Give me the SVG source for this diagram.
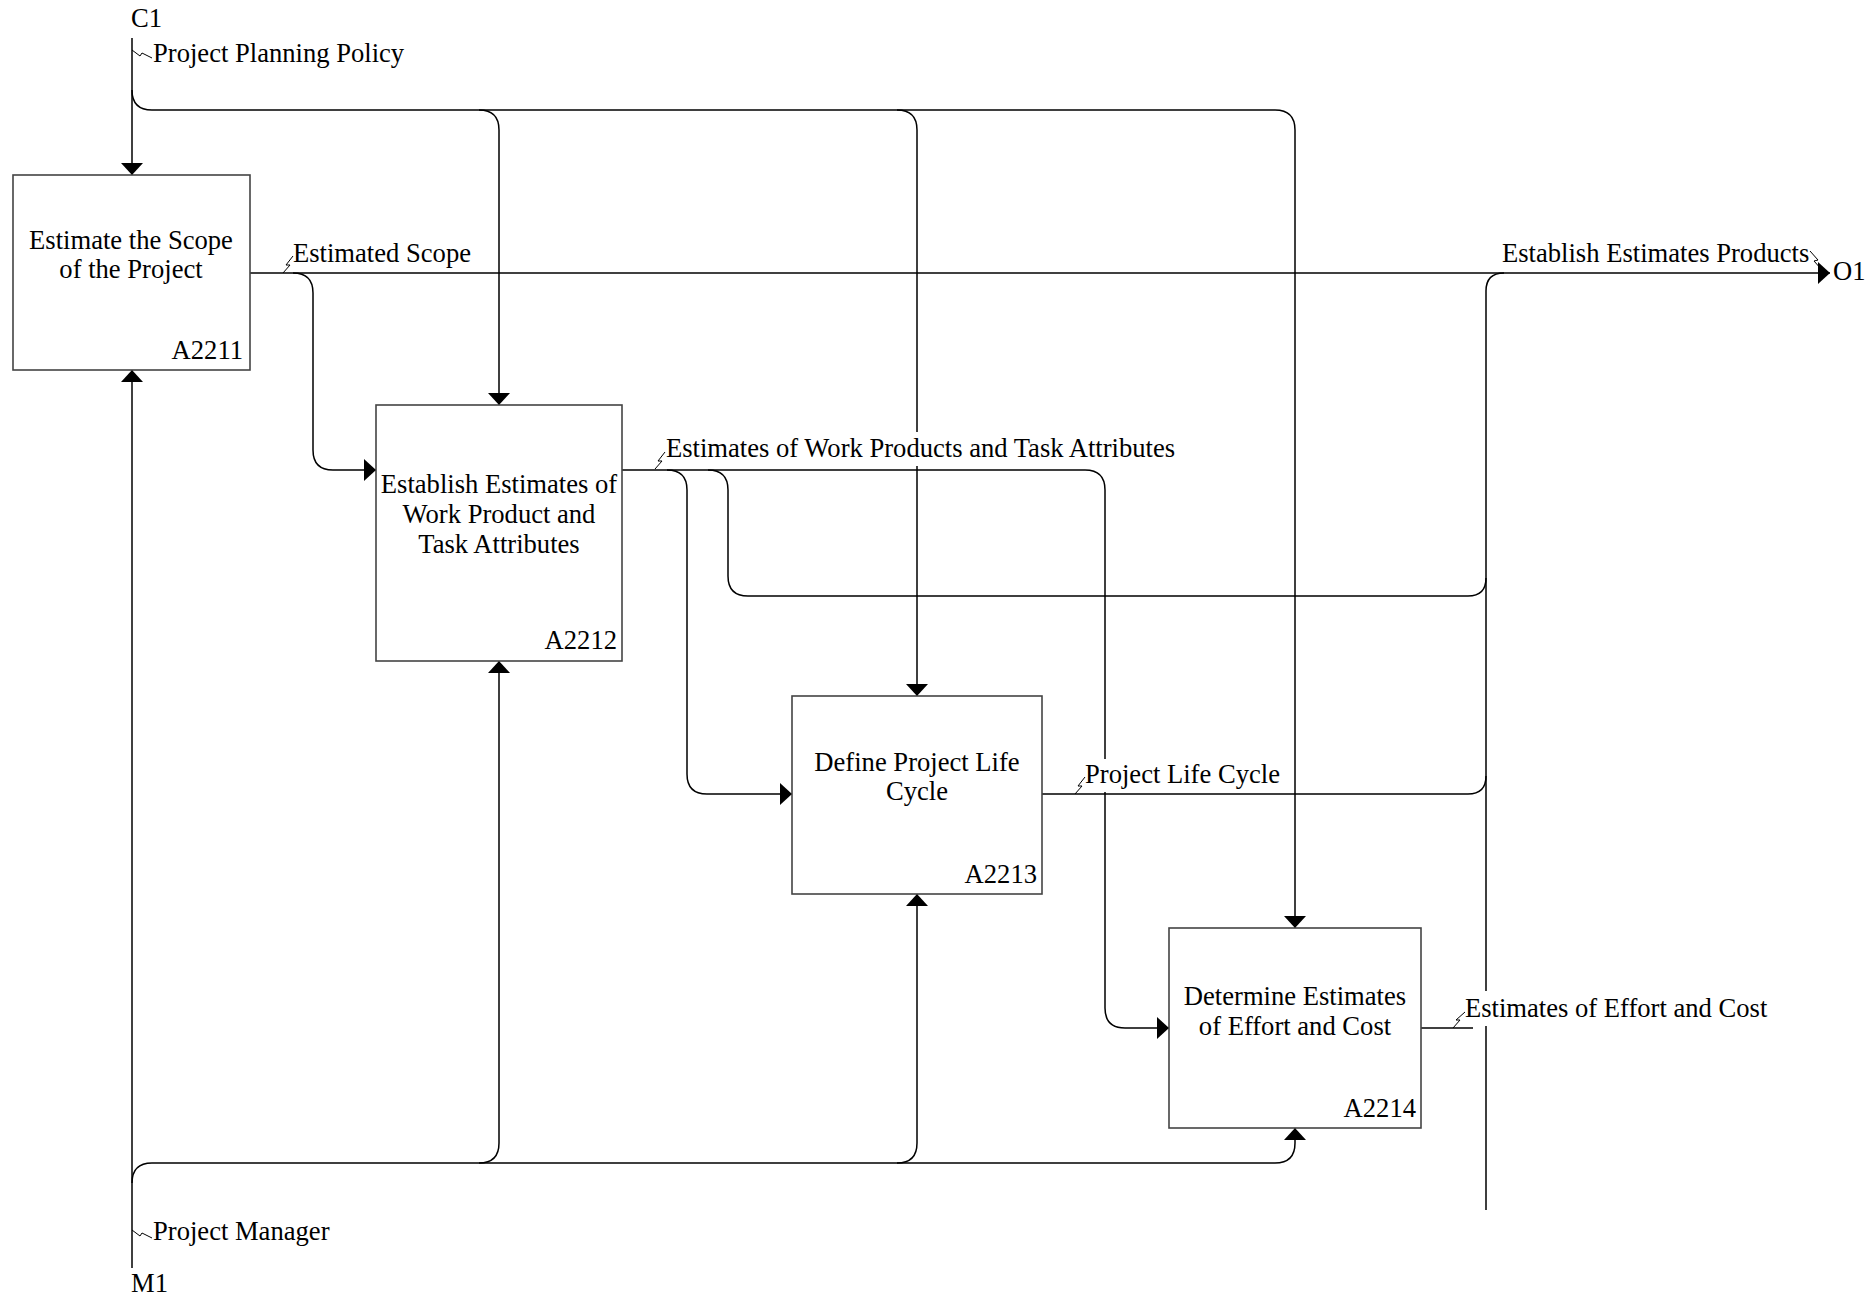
<svg xmlns="http://www.w3.org/2000/svg" width="1873" height="1297" viewBox="0 0 1873 1297">
<style>
  .box { fill: #ffffff; stroke: #444444; stroke-width: 1.6; }
  .t { font-family: "Liberation Serif", "Times New Roman", serif; font-size: 26.6px; fill: #000000; }
  .c { text-anchor: middle; }
  .e { text-anchor: end; }
  .ln { fill: none; stroke: #000000; stroke-width: 1.5; }
  .sq { fill: none; stroke: #000000; stroke-width: 1; }
  .bg { fill: #ffffff; stroke: none; }
</style>
<defs>
  <marker id="arr" viewBox="0 0 12 22" refX="12" refY="11" markerWidth="12" markerHeight="22" markerUnits="userSpaceOnUse" orient="auto">
    <path d="M0,0 L12,11 L0,22 Z" fill="#000000"/>
  </marker>
</defs>
<rect width="1873" height="1297" fill="#ffffff"/>

<g id="connectors">
  <!-- C1 control -->
  <path class="ln" d="M132,38 V175" marker-end="url(#arr)"/>
  <path class="ln" d="M132,90 Q132,110 152,110 H479 Q499,110 499,130 V405" marker-end="url(#arr)"/>
  <path class="ln" d="M479,110 H897 Q917,110 917,130 V696" marker-end="url(#arr)"/>
  <path class="ln" d="M897,110 H1275 Q1295,110 1295,130 V928" marker-end="url(#arr)"/>
  <!-- M1 mechanism -->
  <path class="ln" d="M132,1268 V370" marker-end="url(#arr)"/>
  <path class="ln" d="M132,1183 Q132,1163 152,1163 H479 Q499,1163 499,1143 V661" marker-end="url(#arr)"/>
  <path class="ln" d="M479,1163 H897 Q917,1163 917,1143 V894" marker-end="url(#arr)"/>
  <path class="ln" d="M897,1163 H1275 Q1295,1163 1295,1143 V1128" marker-end="url(#arr)"/>
  <!-- A2211 output -->
  <path class="ln" d="M250,273 H1830" marker-end="url(#arr)"/>
  <path class="ln" d="M293,273 Q313,273 313,293 V450 Q313,470 333,470 H376" marker-end="url(#arr)"/>
  <!-- A2212 output -->
  <path class="ln" d="M622,470 H1085 Q1105,470 1105,490 V1008 Q1105,1028 1125,1028 H1169" marker-end="url(#arr)"/>
  <path class="ln" d="M667,470 Q687,470 687,490 V774 Q687,794 707,794 H792" marker-end="url(#arr)"/>
  <path class="ln" d="M708,470 Q728,470 728,490 V576 Q728,596 748,596 H1468 Q1486,596 1486,578"/>
  <!-- A2213 output -->
  <path class="ln" d="M1042,794 H1468 Q1486,794 1486,776"/>
  <!-- bus -->
  <path class="ln" d="M1486,1210 V291 Q1486,273 1504,273"/>
  <!-- A2214 output -->
  <path class="ln" d="M1421,1028 H1473"/>
</g>

<g id="labels">
  <text class="t" x="131" y="27">C1</text>
  <path class="sq" d="M132,50 L140,56 L142,53 L152,58"/>
  <text class="t" x="153" y="62">Project Planning Policy</text>

  <path class="sq" d="M283,273 L290,265 L286,265 L293,256"/>
  <text class="t" x="293" y="262">Estimated Scope</text>

  <rect class="bg" x="664" y="432" width="524" height="34"/>
  <path class="sq" d="M655,469 L662,461 L658,461 L665,452"/>
  <text class="t" x="666" y="457">Estimates of Work Products and Task Attributes</text>

  <rect class="bg" x="1083" y="759" width="201" height="33"/>
  <path class="sq" d="M1075,794 L1082,786 L1078,786 L1085,777"/>
  <text class="t" x="1085" y="783">Project Life Cycle</text>

  <rect class="bg" x="1463" y="991" width="310" height="35"/>
  <path class="sq" d="M1453,1028 L1460,1020 L1456,1020 L1465,1012"/>
  <text class="t" x="1465" y="1017">Estimates of Effort and Cost</text>

  <text class="t" x="1502" y="262">Establish Estimates Products</text>
  <path class="sq" d="M1810,251 L1818,260 L1814,261 L1822,270"/>
  <text class="t" x="1833" y="280">O1</text>

  <path class="sq" d="M132,1230 L140,1236 L142,1233 L152,1238"/>
  <text class="t" x="153" y="1240">Project Manager</text>
  <text class="t" x="131" y="1292">M1</text>
</g>

<g id="A2211">
  <rect class="box" x="13" y="175" width="237" height="195"/>
  <text class="t c" x="131" y="249">Estimate the Scope</text>
  <text class="t c" x="131" y="278">of the Project</text>
  <text class="t e" x="243" y="359">A2211</text>
</g>

<g id="A2212">
  <rect class="box" x="376" y="405" width="246" height="256"/>
  <text class="t c" x="499" y="493">Establish Estimates of</text>
  <text class="t c" x="499" y="523">Work Product and</text>
  <text class="t c" x="499" y="553">Task Attributes</text>
  <text class="t e" x="617" y="649">A2212</text>
</g>

<g id="A2213">
  <rect class="box" x="792" y="696" width="250" height="198"/>
  <text class="t c" x="917" y="771">Define Project Life</text>
  <text class="t c" x="917" y="800">Cycle</text>
  <text class="t e" x="1037" y="883">A2213</text>
</g>

<g id="A2214">
  <rect class="box" x="1169" y="928" width="252" height="200"/>
  <text class="t c" x="1295" y="1005">Determine Estimates</text>
  <text class="t c" x="1295" y="1035">of Effort and Cost</text>
  <text class="t e" x="1416" y="1117">A2214</text>
</g>
</svg>
